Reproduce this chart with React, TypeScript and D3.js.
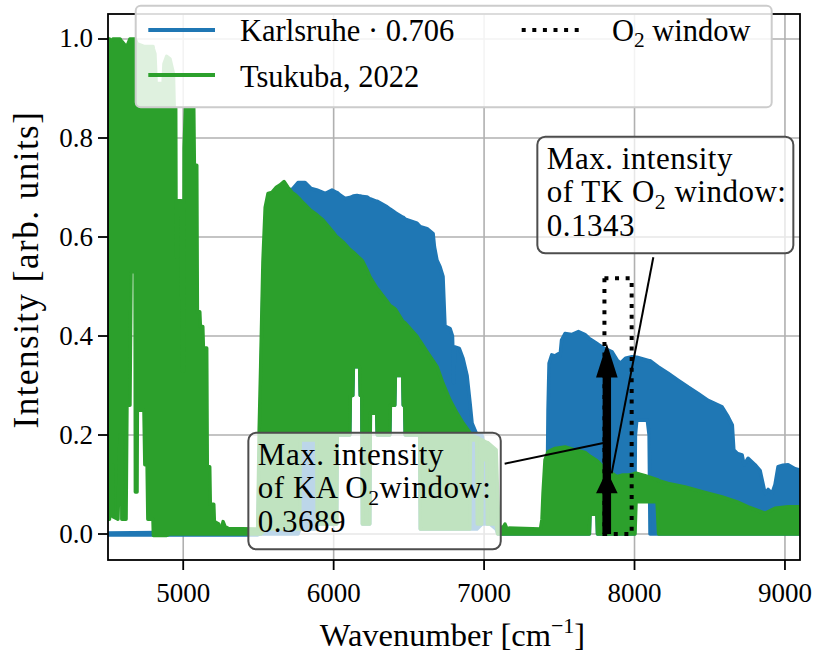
import { useMemo } from "react";
import * as d3 from "d3";

const WIDTH = 813;
const HEIGHT = 652;
const PLOT = { left: 108, right: 800, top: 14, bottom: 560 };
const FONT = "'Liberation Serif', 'DejaVu Serif', serif";

const BLUE = "#1f77b4";
const GREEN = "#2ca02c";

const xDomain = [4500, 9100];
const yDomain = [-0.0525, 1.0505];
const xTicks = [5000, 6000, 7000, 8000, 9000];
const yTicks = [0, 0.2, 0.4, 0.6, 0.8, 1.0];

const karlsruhe = [
  [4500, -0.002, 0.002], [5495, -0.002, 0.005],
  [5510, 0, 0.2], [5530, 0, 0.5], [5550, 0, 0.64], [5600, 0, 0.67], [5670, 0, 0.69],
  [5730, 0, 0.698], [5763, 0, 0.71], [5776, 0.01, 0.71], [5810, 0.01, 0.71],
  [5850, 0.01, 0.698], [5887, 0.01, 0.695], [5891, 0.02, 0.695], [5943, 0.02, 0.688],
  [5989, 0.02, 0.695], [6020, 0.02, 0.69], [6024, 0.2, 0.69], [6042, 0.2, 0.685],
  [6076, 0.2, 0.678], [6107, 0.2, 0.68], [6111, 0.28, 0.68], [6127, 0.28, 0.682],
  [6131, 0.338, 0.683], [6155, 0.338, 0.684], [6173, 0.338, 0.683], [6177, 0.28, 0.683],
  [6187, 0.28, 0.682], [6191, 0.02, 0.682], [6222, 0.02, 0.681], [6240, 0.02, 0.677],
  [6244, 0.244, 0.677], [6286, 0.244, 0.672], [6290, 0.2, 0.672], [6355, 0.2, 0.661],
  [6373, 0.2, 0.657], [6377, 0.26, 0.656], [6406, 0.26, 0.65], [6410, 0.32, 0.649],
  [6459, 0.32, 0.64], [6463, 0.26, 0.64], [6472, 0.26, 0.637], [6476, 0.2, 0.636],
  [6554, 0.2, 0.628], [6572, 0.2, 0.622], [6576, 0.01, 0.621], [6621, 0.01, 0.617],
  [6661, 0.01, 0.607], [6670, 0.01, 0.58], [6687, 0.01, 0.553], [6707, 0.01, 0.54],
  [6727, 0.01, 0.52], [6740, 0.01, 0.42], [6774, 0.01, 0.415], [6790, 0.01, 0.4],
  [6798, 0.01, 0.305], [6805, 0.01, 0.378], [6835, 0.01, 0.375], [6860, 0.01, 0.355],
  [6887, 0.01, 0.32], [6907, 0.01, 0.264], [6920, 0.01, 0.224], [6953, 0.01, 0.2],
  [6986, 0.02, 0.2], [7018, 0.02, 0.14], [7040, 0.02, 0.12], [7080, 0.01, 0.1],
  [7092, 0, 0.02], [7100, 0, 0.005],
  [7380, 0, 0.005], [7400, 0, 0.01], [7420, 0, 0.1], [7425, 0, 0.25], [7432, 0, 0.345],
  [7450, 0, 0.362], [7472, 0, 0.36], [7494, 0, 0.364], [7505, 0, 0.36], [7515, 0, 0.392],
  [7538, 0, 0.405], [7582, 0, 0.403], [7627, 0, 0.409], [7671, 0, 0.403], [7700, 0, 0.395],
  [7704, 0.04, 0.394], [7750, 0.04, 0.385], [7754, 0, 0.384], [7800, 0, 0.375],
  [7851, 0, 0.368], [7884, 0, 0.3515], [7906, 0, 0.345], [7940, 0, 0.355], [7983, 0, 0.358],
  [8000, 0, 0.358], [8006, 0.2, 0.357], [8015, 0.23, 0.357], [8085, 0.23, 0.351],
  [8097, 0.2, 0.35], [8103, 0, 0.35], [8156, 0, 0.338], [8223, 0, 0.325], [8289, 0, 0.311],
  [8356, 0, 0.297], [8422, 0, 0.284], [8489, 0, 0.27], [8582, 0, 0.257], [8622, 0, 0.237],
  [8650, 0, 0.22], [8660, 0, 0.17], [8682, 0, 0.163], [8715, 0, 0.16], [8728, 0, 0.14],
  [8755, 0, 0.153], [8801, 0, 0.14], [8835, 0, 0.128], [8868, 0, 0.082], [8888, 0, 0.09],
  [8914, 0, 0.082], [8934, 0, 0.1], [8954, 0, 0.136], [8987, 0, 0.139], [9021, 0, 0.14],
  [9067, 0, 0.132], [9100, 0, 0.129],
];

const tsukuba = [
  [4500, 0.03, 1.0], [4510, 0.03, 1.0], [4513, 0.14, 0.998], [4530, 0.14, 0.998],
  [4533, 0.035, 1.0], [4566, 0.03, 1.0], [4580, 0.2, 1.0], [4590, 0.2, 0.995],
  [4592, 0.03, 0.995], [4606, 0.03, 0.99], [4620, 0.03, 0.985], [4626, 0.26, 0.985],
  [4646, 0.26, 1.0], [4653, 0.53, 1.0], [4680, 0.53, 1.0], [4682, 0.085, 1.0],
  [4693, 0.085, 0.99], [4695, 0.25, 0.99], [4739, 0.25, 0.985], [4745, 0.14, 0.985],
  [4760, 0.14, 0.985], [4765, 0.03, 0.985], [4799, 0.03, 0.985], [4802, -0.003, 0.98],
  [4812, -0.003, 0.97], [4820, -0.003, 0.91], [4866, -0.003, 0.91], [4872, -0.003, 0.95],
  [4890, -0.003, 0.965], [4912, 0, 0.96], [4935, 0, 0.93], [4940, 0, 0.86],
  [4950, 0, 0.86], [4953, 0, 0.56], [4962, 0, 0.56], [4966, 0, 0.673], [4988, 0, 0.673],
  [4992, 0, 0.33], [5003, 0, 0.33], [5006, 0, 0.78], [5015, 0, 0.86], [5070, 0, 0.86],
  [5074, 0, 0.745], [5090, 0, 0.745], [5094, 0, 0.449], [5110, 0, 0.449], [5114, 0, 0.419],
  [5130, 0, 0.419], [5134, 0, 0.376], [5156, 0, 0.376], [5160, 0, 0.136], [5176, 0, 0.136],
  [5180, 0, 0.06], [5203, 0, 0.06], [5207, 0, 0.025], [5236, 0, 0.02], [5240, 0, 0.012],
  [5258, 0, 0.015], [5265, 0, 0.025], [5278, 0, 0.015], [5300, 0, 0.011], [5495, 0, 0.01],
  [5505, 0, 0.21], [5515, 0, 0.34], [5530, 0.005, 0.55], [5545, 0.01, 0.66],
  [5564, 0.01, 0.688], [5590, 0.01, 0.69], [5617, 0.01, 0.7], [5643, 0.01, 0.705],
  [5670, 0.01, 0.712], [5697, 0.01, 0.7], [5723, 0.01, 0.69], [5750, 0.01, 0.684],
  [5774, 0.01, 0.677], [5778, 0.19, 0.675], [5810, 0.19, 0.665], [5843, 0.19, 0.655],
  [5887, 0.19, 0.645], [5891, 0.02, 0.644], [5929, 0.02, 0.634], [5996, 0.02, 0.61],
  [6020, 0.02, 0.6], [6024, 0.2, 0.6], [6062, 0.2, 0.59], [6107, 0.2, 0.575],
  [6111, 0.28, 0.574], [6127, 0.28, 0.57], [6131, 0.338, 0.569], [6173, 0.338, 0.557],
  [6177, 0.28, 0.556], [6187, 0.28, 0.553], [6191, 0.02, 0.552], [6222, 0.02, 0.533],
  [6240, 0.02, 0.52], [6244, 0.244, 0.518], [6286, 0.244, 0.497], [6290, 0.2, 0.496],
  [6355, 0.2, 0.47], [6373, 0.2, 0.462], [6377, 0.26, 0.461], [6406, 0.26, 0.455],
  [6410, 0.32, 0.454], [6459, 0.32, 0.43], [6463, 0.26, 0.429], [6472, 0.26, 0.427],
  [6476, 0.2, 0.426], [6554, 0.2, 0.399], [6572, 0.2, 0.39], [6576, 0.01, 0.389],
  [6621, 0.01, 0.368], [6687, 0.01, 0.338], [6727, 0.01, 0.304], [6774, 0.01, 0.27],
  [6820, 0.01, 0.244], [6860, 0.01, 0.224], [6905, 0.01, 0.205], [6909, 0.19, 0.2],
  [6951, 0.19, 0.195], [6955, 0.02, 0.195], [6984, 0.02, 0.19], [6988, 0.15, 0.19],
  [7018, 0.15, 0.185], [7022, 0.02, 0.185], [7080, 0.02, 0.17], [7090, 0, 0.08],
  [7100, 0, 0.012], [7130, 0, 0.015], [7139, 0, 0.02], [7150, 0, 0.012], [7375, 0, 0.01],
  [7385, 0, 0.03], [7392, 0, 0.082], [7405, 0, 0.15], [7425, 0, 0.166], [7472, 0, 0.173],
  [7538, 0, 0.176], [7605, 0, 0.17], [7671, 0, 0.165], [7700, 0, 0.158],
  [7704, 0.04, 0.157], [7750, 0.04, 0.148], [7754, 0, 0.147], [7791, 0, 0.135],
  [7851, 0, 0.1226], [7884, 0, 0.116], [7917, 0, 0.119], [7957, 0, 0.119], [7983, 0, 0.12],
  [8003, 0, 0.1226], [8010, 0.065, 0.123], [8070, 0.065, 0.118], [8150, 0.065, 0.11],
  [8160, 0, 0.108], [8223, 0, 0.102], [8336, 0, 0.095], [8449, 0, 0.0855], [8582, 0, 0.075],
  [8682, 0, 0.065], [8755, 0, 0.055], [8868, 0, 0.042], [8934, 0, 0.052], [9021, 0, 0.055],
  [9100, 0, 0.055],
];

const legendLabels = ["Karlsruhe · 0.706", "Tsukuba, 2022", "O₂ window"];

// O2 window and the two maxima arrows
const o2Window = [7800, 7981];
const o2WindowTop = 0.5165;
const arrowWn = 7816;
const arrowTips = [0.385, 0.128];

const annotations = [
  {
    lines: ["Max. intensity", "of KA O₂window:", "0.3689"],
    box: [5433, 0.2046],
    target: [7793, 0.184],
    fill: 0.7,
  },
  {
    lines: ["Max. intensity", "of TK O₂ window:", "0.1343"],
    box: [7354, 0.8026],
    target: [7848, 0.1226],
    fill: 0.7,
  },
];

function rich(s, fs) {
  const parts = s.split("₂");
  const out = [<tspan key="p0">{parts[0]}</tspan>];
  for (let i = 1; i < parts.length; i++) {
    out.push(
      <tspan key={"s" + i} dy={fs * 0.22} fontSize={fs * 0.7}>2</tspan>,
      <tspan key={"p" + i} dy={-fs * 0.22}>{parts[i]}</tspan>
    );
  }
  return out;
}

export default function App() {
  const x = useMemo(() => d3.scaleLinear().domain(xDomain).range([PLOT.left, PLOT.right]), []);
  const y = useMemo(() => d3.scaleLinear().domain(yDomain).range([PLOT.bottom, PLOT.top]), []);

  const area = d3
    .area()
    .x((d) => x(d[0]))
    .y0((d) => y(d[1]))
    .y1((d) => y(d[2]));

  const ax = x(arrowWn);
  const y0 = y(0);
  const arrowPath = (tip, headLen) => {
    const ty = y(tip);
    const hb = ty + headLen;
    return `M${ax - 4.2},${y0} L${ax - 4.2},${hb} L${ax - 10.8},${hb} L${ax},${ty} L${ax + 10.8},${hb} L${ax + 4.2},${hb} L${ax + 4.2},${y0} Z`;
  };

  const boxW = [252.4, 256];
  const boxH = 116.6;
  const annFs = 31;

  return (
    <div style={{ position: "fixed", left: 0, top: 0 }}>
      <svg width={WIDTH} height={HEIGHT} style={{ display: "block", background: "#fff" }} fontFamily={FONT}>
        <defs>
          <clipPath id="plot">
            <rect x={PLOT.left} y={PLOT.top} width={PLOT.right - PLOT.left} height={PLOT.bottom - PLOT.top} />
          </clipPath>
        </defs>

        {/* grid */}
        <g stroke="#b0b0b0" strokeWidth={1.6}>
          {xTicks.map((t) => (
            <line key={t} x1={x(t)} x2={x(t)} y1={PLOT.top} y2={PLOT.bottom} />
          ))}
          {yTicks.map((t) => (
            <line key={t} x1={PLOT.left} x2={PLOT.right} y1={y(t)} y2={y(t)} />
          ))}
        </g>

        <g clipPath="url(#plot)">
          <path d={area(karlsruhe)} fill={BLUE} stroke={BLUE} strokeWidth={3.5} strokeLinejoin="round" />
          <path d={area(tsukuba)} fill={GREEN} stroke={GREEN} strokeWidth={3.5} strokeLinejoin="round" />

          <rect
            x={x(o2Window[0])}
            y={y(o2WindowTop)}
            width={x(o2Window[1]) - x(o2Window[0])}
            height={y(0) - y(o2WindowTop)}
            fill="none"
            stroke="#000"
            strokeWidth={4}
            strokeDasharray="4 6.6"
          />

          <path d={arrowPath(arrowTips[0], 34)} fill="#000" />
          <path d={arrowPath(arrowTips[1], 22.6)} fill="#000" />
        </g>

        {/* annotations */}
        {annotations.map((a, i) => {
          const bx = x(a.box[0]);
          const by = y(a.box[1]);
          const bw = boxW[i];
          const cx = bx + bw / 2;
          const cy = by + boxH / 2;
          const tx = x(a.target[0]);
          const ty = y(a.target[1]);
          const dx = tx - cx;
          const dy = ty - cy;
          const s = Math.min(Math.abs(bw / 2 / dx), Math.abs(boxH / 2 / dy));
          const len = Math.hypot(dx, dy);
          const sx = cx + dx * s + (dx / len) * 4;
          const sy = cy + dy * s + (dy / len) * 4;
          return (
            <g key={i}>
              <line x1={sx} y1={sy} x2={tx} y2={ty} stroke="#000" strokeWidth={2} />
              <rect x={bx} y={by} width={bw} height={boxH} rx={8} fill="#fff" fillOpacity={a.fill} stroke="#4d4d4d" strokeWidth={2} />
              {a.lines.map((l, j) => (
                <text key={j} x={bx + 9.5} y={by + 32 + j * 33.4} fontSize={annFs} letterSpacing={0.5} fill="#000">
                  {rich(l, annFs)}
                </text>
              ))}
            </g>
          );
        })}

        {/* frame */}
        <rect x={PLOT.left} y={PLOT.top} width={PLOT.right - PLOT.left} height={PLOT.bottom - PLOT.top} fill="none" stroke="#000" strokeWidth={1.8} />

        {/* ticks */}
        {xTicks.map((t) => (
          <g key={t}>
            <line x1={x(t)} x2={x(t)} y1={PLOT.bottom} y2={PLOT.bottom + 10} stroke="#000" strokeWidth={1.8} />
            <text x={x(t)} y={601.5} fontSize={27} textAnchor="middle">{t}</text>
          </g>
        ))}
        {yTicks.map((t) => (
          <g key={t}>
            <line x1={PLOT.left - 10} x2={PLOT.left} y1={y(t)} y2={y(t)} stroke="#000" strokeWidth={1.8} />
            <text x={93} y={y(t) + 8.5} fontSize={27} textAnchor="end">{t.toFixed(1)}</text>
          </g>
        ))}

        <text x={452.5} y={646} fontSize={32.5} textAnchor="middle">
          Wavenumber [cm
          <tspan dy={-13} fontSize={22}>−1</tspan>
          <tspan dy={13}>]</tspan>
        </text>
        <text transform="translate(38,269.5) rotate(-90)" fontSize={35} letterSpacing={1.5} textAnchor="middle">
          Intensity [arb. units]
        </text>

        {/* legend */}
        <g>
          <rect x={135.7} y={5.7} width={636} height={101.6} rx={5} fill="#fff" fillOpacity={0.85} stroke="#cccccc" strokeWidth={2} />
          <line x1={148.3} x2={215} y1={30} y2={30} stroke={BLUE} strokeWidth={4} />
          <line x1={148.3} x2={215} y1={75} y2={75} stroke={GREEN} strokeWidth={4} />
          <line x1={521.7} x2={585} y1={30} y2={30} stroke="#000" strokeWidth={4} strokeDasharray="4 6.6" />
          <text x={240} y={40.7} fontSize={30.5}>{legendLabels[0]}</text>
          <text x={240} y={86.5} fontSize={30.5}>{legendLabels[1]}</text>
          <text x={612} y={40.7} fontSize={30.5}>{rich(legendLabels[2], 30.5)}</text>
        </g>
      </svg>
    </div>
  );
}
